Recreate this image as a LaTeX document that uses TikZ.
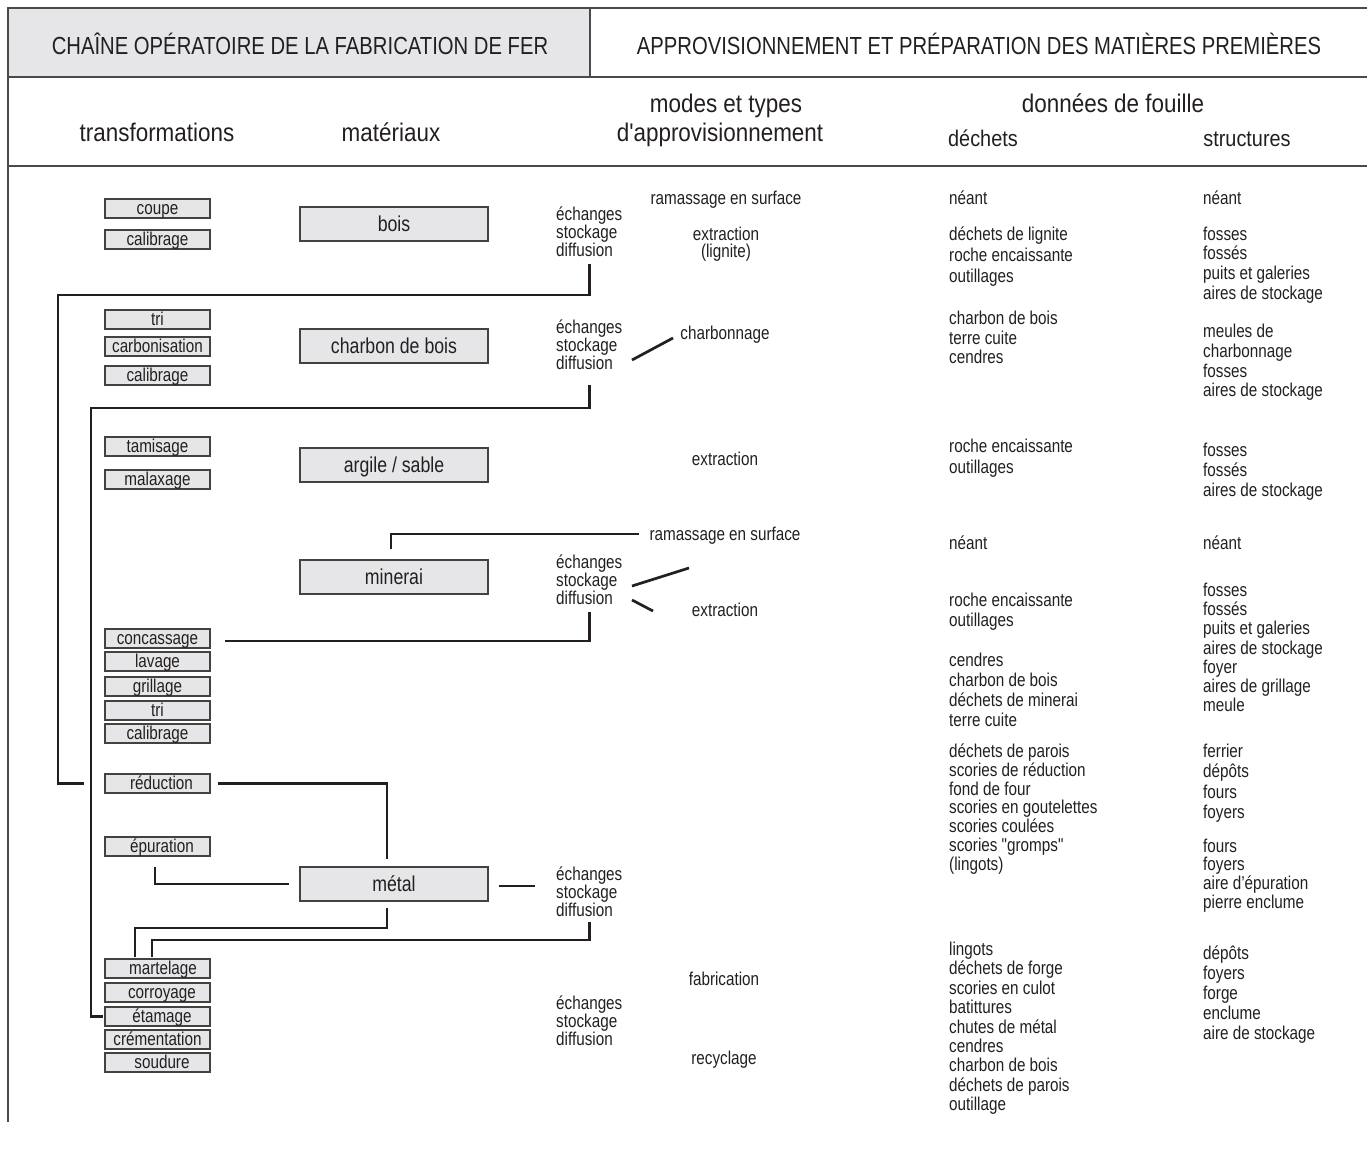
\documentclass[tikz,border=0pt]{standalone}
\usepackage{fontspec}
\setmainfont{Liberation Sans}[FakeStretch=0.82]
\newfontfamily\hdrfont{Liberation Sans}[FakeStretch=0.88]
\newfontfamily\qfont{Liberation Sans}[FakeStretch=0.82,Ligatures=TeXOff]
\newcommand{\stq}{{\qfont"}}
\definecolor{boxgray}{HTML}{E6E6E8}
\definecolor{ink}{HTML}{231F20}
\definecolor{framec}{HTML}{4A4A4A}
\begin{document}
\begin{tikzpicture}[x=1pt,y=-1pt,
  frame/.style={draw=framec,line width=1.1pt},
  conn/.style={draw=ink,line width=2.7pt},
  sm/.style={font=\fontsize{18.6}{18}\selectfont,inner sep=0pt,text=ink,text height=16pt,text depth=2.3pt},
  grp/.style={font=\fontsize{18.6}{18}\selectfont,inner sep=0pt,text=ink,align=left,anchor=base west},
  tbox/.style={draw=ink!85,line width=1.2pt,fill=boxgray,minimum width=105pt,minimum height=19pt,inner sep=0pt,
    font=\fontsize{18.6}{18}\selectfont,text=ink,text height=14.5pt,text depth=3.5pt},
  mbox/.style={draw=ink!85,line width=1.2pt,fill=boxgray,minimum width=188pt,minimum height=34pt,inner sep=0pt,
    font=\fontsize{21.6}{22}\selectfont,text=ink,text height=17.5pt,text depth=2.3pt},
  hdr/.style={font=\hdrfont\fontsize{25.5}{26}\selectfont,inner sep=0pt,text=ink,text height=20pt,text depth=2.7pt},
  hdrs/.style={font=\hdrfont\fontsize{22.6}{23}\selectfont,inner sep=0pt,text=ink,text height=18pt,text depth=2.2pt},
  ttl/.style={font=\fontsize{24.7}{25}\selectfont,inner sep=0pt,text=ink,text height=17.8pt,text depth=0pt}
]
\useasboundingbox (0,0) rectangle (1367,1149);

% frame
\fill[boxgray] (8,8) rectangle (590,77);
\draw[frame] (1367,8) -- (8,8) -- (8,1122);
\draw[frame] (590,8) -- (590,77);
\draw[frame] (8,77) -- (1367,77);
\draw[frame] (8,166) -- (1367,166);

% titles
\node[ttl] (t1) at (300,46) {CHAÎNE OPÉRATOIRE DE LA FABRICATION DE FER};
\node[ttl] (t2) at (979,46) {APPROVISIONNEMENT ET PRÉPARATION DES MATIÈRES PREMIÈRES};

% headers
\node[hdr] (h1) at (157,133) {transformations};
\node[hdr] (h2) at (391,133) {matériaux};
\node[hdr] (h3) at (726,104) {modes et types};
\node[hdr] (h4) at (720,133) {d'approvisionnement};
\node[hdr] (h5) at (1113,104) {données de fouille};
\node[hdrs] (h6) at (983,139) {déchets};
\node[hdrs] (h7) at (1247,139) {structures};

% transformation boxes
\node[tbox] (coupe) at (157.5,208.5) {coupe};
\node[tbox] (calA) at (157.5,239.5) {calibrage};
\node[tbox] (triA) at (157.5,319.5) {tri};
\node[tbox] (carb) at (157.5,346.5) {carbonisation};
\node[tbox] (calB) at (157.5,375.5) {calibrage};
\node[tbox] (tami) at (157.5,446.5) {tamisage};
\node[tbox] (mala) at (157.5,479.5) {malaxage};
\node[tbox] (conc) at (157.5,638.5) {concassage};
\node[tbox] (lava) at (157.5,661.5) {lavage};
\node[tbox] (gril) at (157.5,686.5) {grillage};
\node[tbox] (triB) at (157.5,710.5) {tri};
\node[tbox] (calC) at (157.5,733.5) {calibrage};
\node[tbox] (red) at (157.5,783.5) {\hspace*{8pt}réduction};
\node[tbox] (epur) at (157.5,846.5) {\hspace*{9pt}épuration};
\node[tbox] (mart) at (157.5,968.5) {\hspace*{11pt}martelage};
\node[tbox] (corr) at (157.5,992.5) {\hspace*{9pt}corroyage};
\node[tbox] (etam) at (157.5,1016.5) {\hspace*{9pt}étamage};
\node[tbox] (crem) at (157.5,1039.5) {crémentation};
\node[tbox] (soud) at (157.5,1062.5) {\hspace*{9pt}soudure};

% material boxes
\node[mbox] (bois) at (394,224) {bois};
\node[mbox] (charb) at (394,346) {charbon de bois};
\node[mbox] (argi) at (394,465) {argile / sable};
\node[mbox] (mine) at (394,577) {minerai};
\node[mbox] (metal) at (394,884) {métal};

% échanges groups (base = baseline of the last line)
\node[grp] (ech1) at (556,256) {échanges\\stockage\\diffusion};
\node[grp] (ech2) at (556,369) {échanges\\stockage\\diffusion};
\node[grp] (ech3) at (556,604) {échanges\\stockage\\diffusion};
\node[grp] (ech4) at (556,916) {échanges\\stockage\\diffusion};
\node[grp] (ech5) at (556,1045) {échanges\\stockage\\diffusion};

% modes
\node[sm] (mode1) at (726,198) {ramassage en surface};
\node[sm] (mode2) at (726,234) {extraction};
\node[sm] (mode2b) at (726,251) {(lignite)};
\node[sm] (mode3) at (725,333) {charbonnage};
\node[sm] (mode4) at (725,459) {extraction};
\node[sm] (mode5) at (725,534) {ramassage en surface};
\node[sm] (mode6) at (725,610) {extraction};
\node[sm] (mode7) at (724,979) {fabrication};
\node[sm] (mode8) at (724,1058) {recyclage};

% déchets column
\foreach \y/\t in {198/néant, 234/déchets de lignite, 255/roche encaissante, 276/outillages,
  318/charbon de bois, 338/terre cuite, 357/cendres,
  446/roche encaissante, 467/outillages,
  543/néant, 600/roche encaissante, 620/outillages,
  660/cendres, 680/charbon de bois, 700/déchets de minerai, 720/terre cuite,
  751/déchets de parois, 770/scories de réduction, 789/fond de four, 807/scories en goutelettes,
  826/scories coulées, 845/scories \stq gromps\stq, 864/(lingots),
  949/lingots, 968/déchets de forge, 988/scories en culot, 1007/batittures, 1027/chutes de métal,
  1046/cendres, 1065/charbon de bois, 1085/déchets de parois, 1104/outillage}
  \node[sm,anchor=west] (dech\y) at (949,\y) {\t};

% structures column
\foreach \y/\t in {198/néant, 234/fosses, 253/fossés, 273/puits et galeries, 293/aires de stockage,
  331/meules de, 351/charbonnage, 371/fosses, 390/aires de stockage,
  450/fosses, 470/fossés, 490/aires de stockage,
  543/néant, 590/fosses, 609/fossés, 628/puits et galeries, 648/aires de stockage, 667/foyer,
  686/aires de grillage, 705/meule,
  751/ferrier, 771/dépôts, 792/fours, 812/foyers,
  846/fours, 864/foyers, 883/aire d’épuration, 902/pierre enclume,
  953/dépôts, 973/foyers, 993/forge, 1013/enclume, 1033/aire de stockage}
  \node[sm,anchor=west] (str\y) at (1203,\y) {\t};

% connectors
\draw[conn] (ech1.south |- 0,264) |- (58,295) |- ([xshift=-20pt]red.west);
\draw[conn] (ech2.south |- 0,385) |- (91,408) |- ([xshift=-1pt]etam.west);
\draw[conn] (632,360) -- (673,338);
\draw[conn] ([xshift=-3pt,yshift=10pt]mine.north) |- ([xshift=-10pt]mode5.west);
\draw[conn] (632,586) -- (689,568);
\draw[conn] (632,600) -- (653,611);
\draw[conn] (ech3.south |- 0,612) |- (225,641);
\draw[conn] ([xshift=7pt]red.east) -| ([xshift=-7pt,yshift=7pt]metal.north);
\draw[conn] ([xshift=-2.5pt,yshift=-10pt]epur.south) |- ([xshift=-10pt]metal.west);
\draw[conn] ([xshift=10pt,yshift=-2pt]metal.east) -- ([xshift=-21pt,yshift=-2pt]metal.east -| ech4.west);
\draw[conn] ([xshift=-7pt,yshift=-6pt]metal.south) |- (135,928) -- ([xshift=-22.5pt,yshift=1pt]mart.north);
\draw[conn] (ech4.south |- 0,922) |- (152,940) -- ([xshift=-5.5pt,yshift=1pt]mart.north);
\end{tikzpicture}
\end{document}
